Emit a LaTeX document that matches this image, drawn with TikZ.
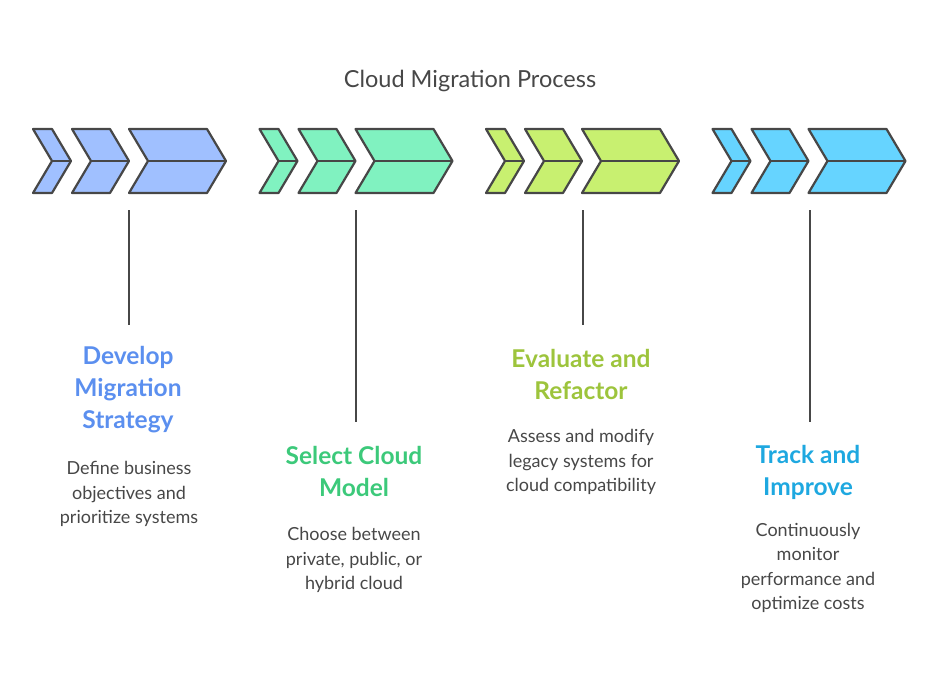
\documentclass[tikz,border=0pt]{standalone}
\usepackage{fontspec}
\setmainfont{Lato}
\begin{document}
\begin{tikzpicture}[x=1pt,y=-1pt,
  chev/.style={draw=black!72,line width=2.2pt,line join=round},
  conn/.style={draw=black!72,line width=2.2pt},
  head/.style={font=\fontsize{24.5}{32}\selectfont\bfseries,align=center},
  body/.style={font=\fontsize{18}{24.5}\selectfont,align=center,text=black!72}]
\useasboundingbox (0,0) rectangle (940,681);
\definecolor{cA}{HTML}{A0C0FF}\definecolor{tA}{HTML}{5B8FEF}
\definecolor{cB}{HTML}{80F2C0}\definecolor{tB}{HTML}{3CC97A}
\definecolor{cC}{HTML}{C8F070}\definecolor{tC}{HTML}{9DC43C}
\definecolor{cD}{HTML}{66D4FF}\definecolor{tD}{HTML}{1EA8E0}
\node[font=\fontsize{23.5}{26}\selectfont,text=black!72] (title) at (470,81) {Cloud Migration Process};
\newcommand{\mychev}[3]{%
 \fill[#3] (#1,129)--({#1+#2},129)--({#1+#2+19},161)--({#1+#2},193)--(#1,193)--({#1+19},161)--cycle;
 \draw[chev] (#1,129)--({#1+#2},129)--({#1+#2+19},161)--({#1+#2},193)--(#1,193)--({#1+19},161)--cycle;
 \draw[chev] ({#1+19},161)--({#1+#2+19},161);}
\foreach \o/\c in {0/cA,226.5/cB,453/cC,679.5/cD}{
  \mychev{33+\o}{19}{\c}
  \mychev{72+\o}{38}{\c}
  \mychev{129+\o}{78}{\c}
}
% group 1
\coordinate (t1) at (129,210); \coordinate (b1) at (129,325);
\draw[conn] (t1)--(b1);
\node[head,text=tA] (h1) at (128,390) {Develop\\Migration\\Strategy};
\node[body] (d1) at (129,494) {Define business\\objectives and\\prioritize systems};
% group 2
\coordinate (t2) at (356,210); \coordinate (b2) at (356,422);
\draw[conn] (t2)--(b2);
\node[head,text=tB] (h2) at (354,471) {Select Cloud\\Model};
\node[body] (d2) at (354,560) {Choose between\\private, public, or\\hybrid cloud};
% group 3
\coordinate (t3) at (583,210); \coordinate (b3) at (583,325);
\draw[conn] (t3)--(b3);
\node[head,text=tC] (h3) at (581,374) {Evaluate and\\Refactor};
\node[body] (d3) at (581,462) {Assess and modify\\legacy systems for\\cloud compatibility};
% group 4
\coordinate (t4) at (810,210); \coordinate (b4) at (810,422);
\draw[conn] (t4)--(b4);
\node[head,text=tD] (h4) at (808,472) {Track and\\Improve};
\node[body] (d4) at (808,568) {Continuously\\monitor\\performance and\\optimize costs};
\end{tikzpicture}
\end{document}
